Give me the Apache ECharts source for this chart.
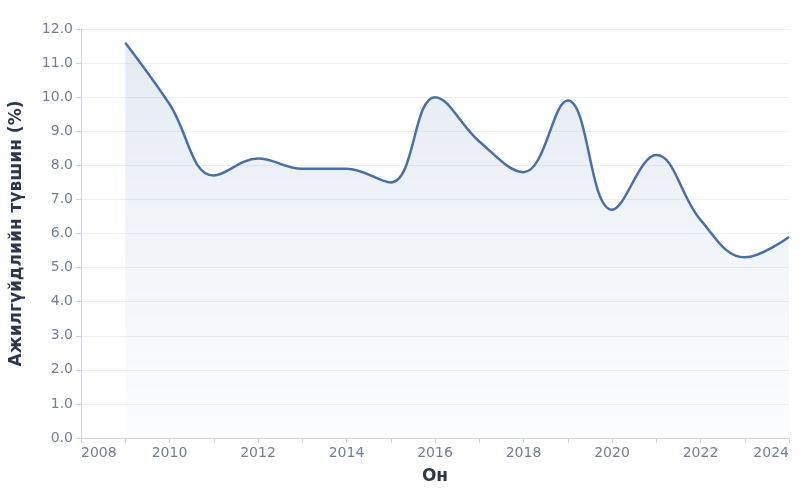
<!DOCTYPE html>
<html>
<head>
<meta charset="UTF-8">
<script src="https://cdn.jsdelivr.net/npm/echarts@6/dist/echarts.min.js"></script>
<style>html,body{margin:0;padding:0;background:#fff}#c{width:800px;height:500px}</style>
</head>
<body>
<div id="c"></div>
<script>
const years = [2009,2010,2011,2012,2013,2014,2015,2016,2017,2018,2019,2020,2021,2022,2023,2024];
const rates = [11.6,9.8,7.7,8.2,7.9,7.9,7.5,10.0,8.7,7.8,9.9,6.7,8.3,6.4,5.3,5.9];

const chart = echarts.init(document.getElementById('c'));
chart.setOption({
    animation: false,
    textStyle: { fontFamily: 'DejaVu Sans' },
    grid: { left: 74, right: 11, top: 29, bottom: 62 },
    xAxis: {
        type: 'value', min: 2008, max: 2024, interval: 2,
        name: 'Он', nameLocation: 'middle', nameGap: 30,
        nameTextStyle: { fontSize: 17, fontWeight: 'bold', color: '#2d3748', fontFamily: 'DejaVu Sans' },
        axisLine: { lineStyle: { color: '#cbd5e0' } },
        axisTick: { show: true, lineStyle: { color: '#cbd5e0' } },
        minorTick: { show: true, splitNumber: 2, length: 5, lineStyle: { color: '#cbd5e0' } },
        splitLine: { show: false },
        axisLabel: { color: '#718096', fontSize: 14, fontFamily: 'DejaVu Sans', alignMinLabel: 'left', alignMaxLabel: 'right', formatter: v => String(v) }
    },
    yAxis: {
        type: 'value', min: 0, max: 12, interval: 1,
        name: 'Ажилгүйдлийн түвшин (%)', nameLocation: 'middle', nameGap: 56, nameRotate: 90,
        nameTextStyle: { fontSize: 17, fontWeight: 'bold', color: '#2d3748', fontFamily: 'DejaVu Sans' },
        axisLine: { show: true, lineStyle: { color: '#cbd5e0' } },
        axisTick: { show: true, lineStyle: { color: '#cbd5e0' } },
        splitLine: { lineStyle: { color: '#edf0f4' } },
        axisLabel: { color: '#718096', fontSize: 14, fontFamily: 'DejaVu Sans', formatter: v => v.toFixed(1) }
    },
    series: [{
        type: 'line', smooth: 0.4, showSymbol: false,
        data: years.map((y, i) => [y, rates[i]]),
        lineStyle: { color: '#4a6fa5', width: 2.5 },
        areaStyle: {
            color: new echarts.graphic.LinearGradient(0, 0, 0, 1, [
                { offset: 0, color: 'rgba(74,111,165,0.2)' },
                { offset: 1, color: 'rgba(74,111,165,0.02)' }
            ])
        }
    }]
});
</script>
</body>
</html>
